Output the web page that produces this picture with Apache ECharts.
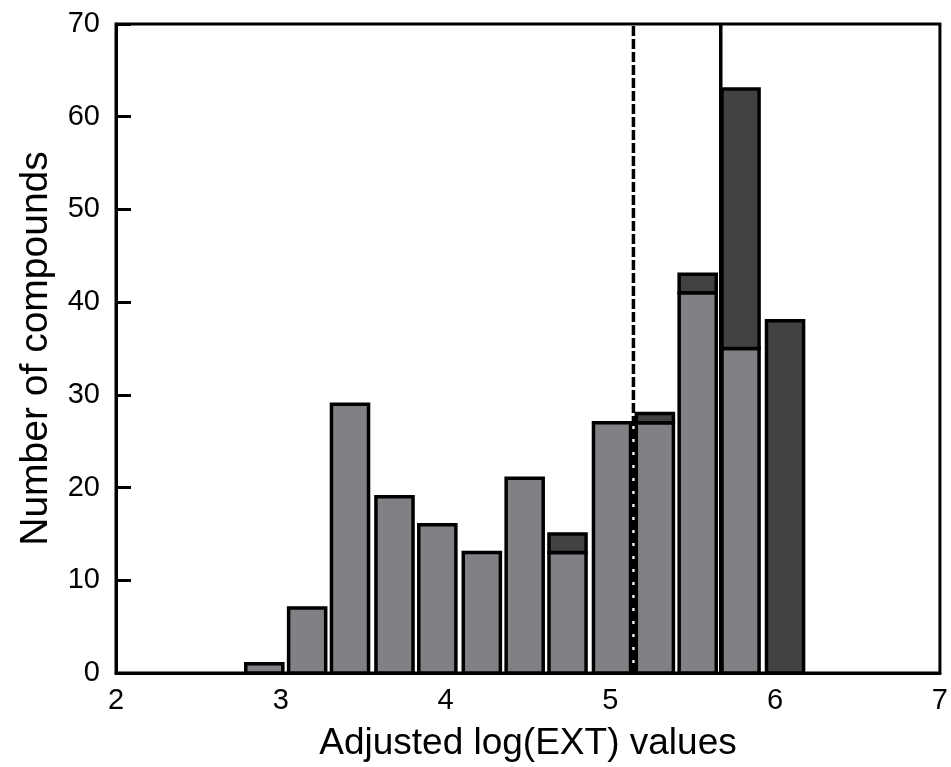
<!DOCTYPE html>
<html>
<head>
<meta charset="utf-8">
<script src="https://cdn.jsdelivr.net/npm/echarts@6/dist/echarts.min.js"></script>
<style>
html,body{margin:0;padding:0;background:#fff;}
#chart{width:951px;height:767px;}
</style>
</head>
<body>
<div id="chart"></div>
<script>
// Bin centres (Adjusted log(EXT) values)
var binCenters = [2.90, 3.16, 3.42, 3.69, 3.95, 4.22, 4.48, 4.74, 5.01, 5.27, 5.53, 5.79, 6.06];
// Lower (light grey) part of each bar
var lightCounts = [1, 7, 29, 19, 16, 13, 21, 13, 27, 27, 41, 35, 0];
// Upper (dark grey) part of each bar
var darkCounts  = [0, 0, 0, 0, 0, 0, 0, 2, 0, 1, 2, 28, 38];
// Vertical reference lines
var dashedLineX = 5.14;
var solidLineX = 5.67;
var xTicks = [2, 3, 4, 5, 6, 7];
var yTicks = [0, 10, 20, 30, 40, 50, 60, 70];

var FONT = '"Liberation Sans", Arial, sans-serif';
var LIGHT = '#808185';
var DARK = '#424244';
var BAR_W = 0.225;

var barData = binCenters.map(function (x, i) { return [x, lightCounts[i], darkCounts[i]]; });

function renderBar(params, api) {
  var x = api.value(0), a = api.value(1), b = api.value(2);
  var w = api.size([BAR_W, 0])[0];
  var children = [];
  var p0 = api.coord([x, 0]);
  if (a > 0) {
    var p1 = api.coord([x, a]);
    children.push({
      type: 'rect',
      shape: { x: p0[0] - w / 2, y: p1[1], width: w, height: p0[1] - p1[1] },
      style: { fill: LIGHT, stroke: '#000', lineWidth: 3.5 }
    });
  }
  if (b > 0) {
    var q0 = api.coord([x, a]);
    var q1 = api.coord([x, a + b]);
    children.push({
      type: 'rect',
      shape: { x: q0[0] - w / 2, y: q1[1], width: w, height: q0[1] - q1[1] },
      style: { fill: DARK, stroke: '#000', lineWidth: 3.5 }
    });
  }
  return { type: 'group', children: children };
}

var chart = echarts.init(document.getElementById('chart'));
chart.setOption({
  animation: false,
  backgroundColor: '#fff',
  grid: { left: 116, right: 9, top: 24, bottom: 93, show: true, borderColor: '#000', borderWidth: 3, backgroundColor: 'transparent' },
  xAxis: {
    type: 'value', min: xTicks[0], max: xTicks[xTicks.length - 1], interval: 1,
    axisLine: { show: true, lineStyle: { color: '#000', width: 3 } },
    axisTick: { show: false },
    splitLine: { show: false },
    axisLabel: { color: '#000', fontSize: 29, fontFamily: FONT, margin: 13 },
    name: 'Adjusted log(EXT) values', nameLocation: 'middle', nameGap: 52,
    nameTextStyle: { color: '#000', fontSize: 37, fontFamily: FONT }
  },
  yAxis: {
    type: 'value', min: yTicks[0], max: yTicks[yTicks.length - 1], interval: 10,
    axisLine: { show: true, lineStyle: { color: '#000', width: 3 } },
    axisTick: { show: true, inside: true, length: 15, lineStyle: { color: '#000', width: 3 } },
    splitLine: { show: false },
    axisLabel: { color: '#000', fontSize: 29, fontFamily: FONT, margin: 16 },
    name: 'Number of compounds', nameLocation: 'middle', nameGap: 60,
    nameTextStyle: { color: '#000', fontSize: 39, fontFamily: FONT }
  },
  series: [
    {
      type: 'custom', renderItem: renderBar, data: barData,
      encode: { x: 0, y: [1, 2] }, z: 2
    },
    {
      type: 'line', data: [[dashedLineX, 0], [dashedLineX, 70]], symbol: 'none', z: 3,
      lineStyle: { color: '#000', width: 3.5, type: [10, 3] }
    },
    {
      type: 'line', data: [[solidLineX, 0], [solidLineX, 70]], symbol: 'none', z: 3,
      lineStyle: { color: '#000', width: 3.5 }
    }
  ]
});
</script>
</body>
</html>
